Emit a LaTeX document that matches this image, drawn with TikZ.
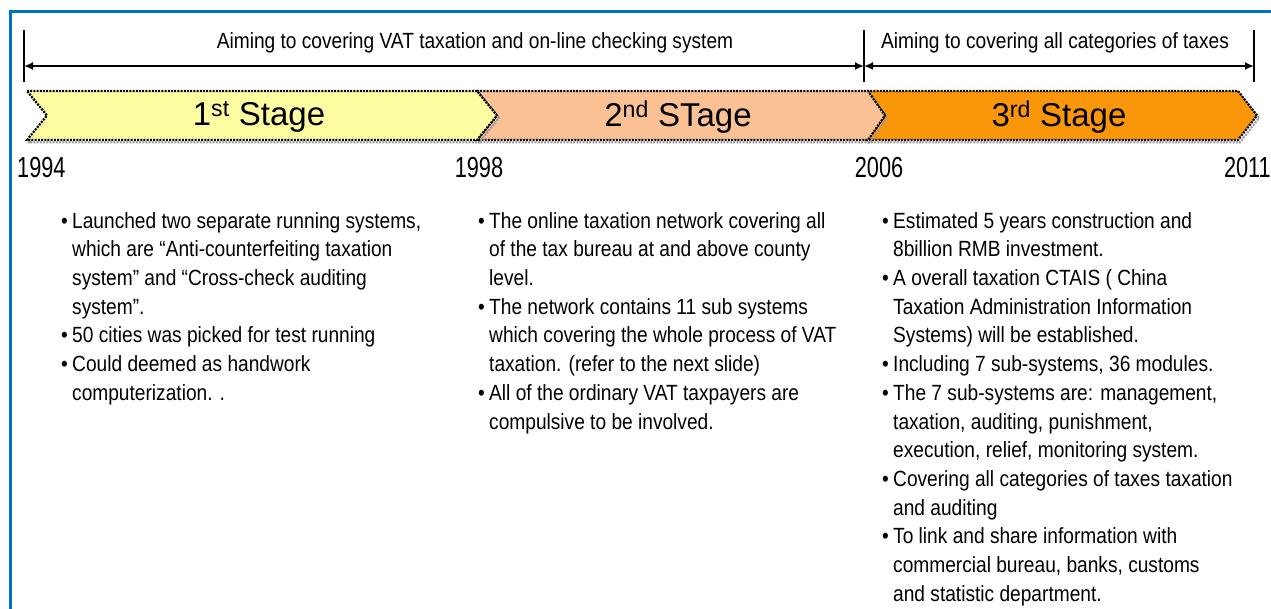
\documentclass[tikz,border=0pt]{standalone}
\usepackage{fontspec}
\setmainfont{Liberation Sans}
\newfontfamily\narrowfont{Liberation Sans}[FakeStretch=0.87]
\newfontfamily\yearfont{Liberation Sans}[FakeStretch=0.75]
\usetikzlibrary{arrows.meta}
\definecolor{frameblue}{RGB}{0,112,204}
\definecolor{stageyellow}{RGB}{252,252,160}
\definecolor{stagepeach}{RGB}{250,194,148}
\definecolor{stageorange}{RGB}{250,150,10}
\newcommand{\itmark}{\makebox[11pt][l]{\textbullet}}
\newcommand{\itcont}{\hspace*{11pt}}

\begin{document}
\begin{tikzpicture}[x=1pt, y=-1pt,
    chevron/.style={fill=#1, draw=black, dash pattern=on 2pt off 1.2pt, line width=2.2pt},
    chevshadow/.style={draw=black!40, dash pattern=on 2pt off 1.2pt, line width=2pt},
    dimline/.style={{Latex[length=9pt,width=8pt]}-{Latex[length=9pt,width=8pt]}, line width=2.4pt},
    tickline/.style={line width=1.8pt},
    aim/.style={font=\narrowfont\fontsize{22}{26}\selectfont, inner sep=0pt},
    stagelabel/.style={font=\fontsize{33}{36}\selectfont, inner sep=0pt},
    year/.style={font=\yearfont\fontsize{29}{32}\selectfont, inner sep=0pt},
    notes/.style={font=\narrowfont\fontsize{22}{28.7}\selectfont, align=left, anchor=north west, inner sep=0pt}
]
\useasboundingbox (0,0) rectangle (1271,609);

% Slide frame (only left and top edges show)
\draw[frameblue, line width=3pt] (10,609) -- (10,12) -- (1271,12);

% Period markers and spans
\coordinate (tA) at (24,66);
\coordinate (tB) at (864,66);
\coordinate (tC) at (1254,66);
\foreach \t in {tA,tB,tC}
  \draw[tickline] ([yshift=36pt]\t) -- ([yshift=-16pt]\t);
\draw[dimline] (tA) -- (tB);
\draw[dimline] (tB) -- (tC);
\node[aim] (aim1) at (475,43) {Aiming to covering VAT taxation and on-line checking system};
\node[aim] (aim2) at (1055,43) {Aiming to covering all categories of taxes};

% Stage chevrons, right to left so each tip lies on top
\foreach \xa/\xb/\xc/\xd/\col in {867/1238/1257/885/stageorange, 477/868/885/497/stagepeach, 27/477/497/47/stageyellow} {
  \draw[chevshadow] (\xa+2,93.5) -- (\xb+2,93.5) -- (\xc+2,118) -- (\xb+2,142.5) -- (\xa+2,142.5) -- (\xd+2,118) -- cycle;
  \draw[chevron=\col] (\xa,91) -- (\xb,91) -- (\xc,115.5) -- (\xb,140) -- (\xa,140) -- (\xd,115.5) -- cycle;
}
\node[stagelabel] (s1) at (259,117) {1\textsuperscript{st} Stage};
\node[stagelabel] (s2) at (678,117) {2\textsuperscript{nd} STage};
\node[stagelabel] (s3) at (1059,117) {3\textsuperscript{rd} Stage};

% Years
\node[year, anchor=west] (y1994) at (17,168) {1994};
\node[year] (y1998) at (479,168) {1998};
\node[year] (y2006) at (879,168) {2006};
\node[year, anchor=east] (y2011) at (1271,168) {2011};

% Notes under each stage
\node[notes] (n1) at (61,212) {%
\itmark Launched two separate running systems,\\
\itcont which are “Anti-counterfeiting taxation\\
\itcont system” and “Cross-check auditing\\
\itcont system”.\\
\itmark 50 cities was picked for test running\\
\itmark Could deemed as handwork\\
\itcont computerization. .};
\node[notes] (n2) at (478,212) {%
\itmark The online taxation network covering all\\
\itcont of the tax bureau at and above county\\
\itcont level.\\
\itmark The network contains 11 sub systems\\
\itcont which covering the whole process of VAT\\
\itcont taxation. (refer to the next slide)\\
\itmark All of the ordinary VAT taxpayers are\\
\itcont compulsive to be involved.};
\node[notes] (n3) at (882,212) {%
\itmark Estimated 5 years construction and\\
\itcont 8billion RMB investment.\\
\itmark A overall taxation CTAIS ( China\\
\itcont Taxation Administration Information\\
\itcont Systems) will be established.\\
\itmark Including 7 sub-systems, 36 modules.\\
\itmark The 7 sub-systems are: management,\\
\itcont taxation, auditing, punishment,\\
\itcont execution, relief, monitoring system.\\
\itmark Covering all categories of taxes taxation\\
\itcont and auditing\\
\itmark To link and share information with\\
\itcont commercial bureau, banks, customs\\
\itcont and statistic department.};

\end{tikzpicture}
\end{document}
